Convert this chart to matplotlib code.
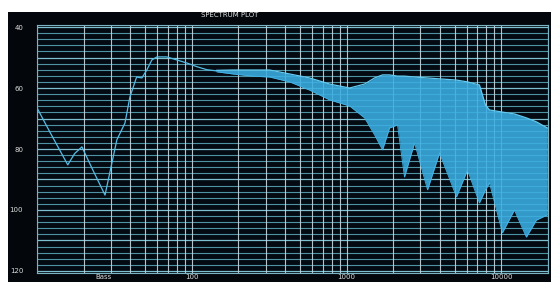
import matplotlib
matplotlib.use("Agg")
import matplotlib.pyplot as plt
from matplotlib.patches import Rectangle

# low frequency part, single trace (Hz, dB)
line_freq = [10, 12.1, 15.8, 17.5, 19.5, 23, 27.5, 32.8, 37, 39.8, 44, 47.6, 51.2,
             55.2, 59.5, 68.9, 80, 92.9, 107.7, 125, 145]
line_db = [-66.5, -74.4, -85.2, -81.5, -79.3, -87, -95.1, -77, -71.5, -63, -56.4, -56.7, -54.1,
           -50.8, -49.8, -49.8, -50.8, -51.8, -53.0, -54.0, -54.4]

# upper part: noisy band, top and bottom of the trace (Hz, dB)
band_freq = [145, 184, 247.5, 318, 429, 577, 777, 1045, 1307, 1517, 1707, 1894, 2133,
             2366, 2748, 3334, 3983, 5129, 6039, 7211, 7889, 8375, 10150, 12130,
             14500, 16830, 19800]
band_top = [-54.2, -54.1, -54.1, -54.1, -55.4, -56.7, -58.7, -60.0, -58.7, -56.7, -55.7,
            -55.7, -56.1, -56.1, -56.4, -56.7, -57.0, -57.4, -58.0, -59.0, -65.6, -67.2,
            -67.9, -68.5, -69.8, -71.1, -73.1]
band_bottom = [-54.7, -55.4, -56.1, -56.4, -58.0, -60.7, -63.9, -65.9, -69.8, -75.4, -80.3,
               -73.1, -72.1, -89.2, -78.0, -93.4, -81.3, -95.7, -86.9, -97.7, -93.4, -91.1,
               -107.5, -100.0, -108.9, -103.3, -101.6]

y_ticks = [-40, -60, -80, -100, -120]
y_labels = ["40", "60", "80", "100", "120"]
x_ticks = [26.7, 100, 1000, 10000]
x_labels = ["Bass", "100", "1000", "10000"]

fig = plt.figure(figsize=(5.51, 2.82), dpi=100)
fig.patch.set_facecolor("white")
fig.patches.append(Rectangle((8 / 551, 0), 1, 270 / 282, transform=fig.transFigure,
                             facecolor="#03060a", edgecolor="none", zorder=-10))

ax = fig.add_axes([37 / 551, 9 / 282, 511 / 551, 248 / 282])
ax.set_zorder(1)
ax.set_facecolor("#040a12")
ax.set_xscale("log")
ax.set_xlim(10, 20000)
ax.set_ylim(-120.66, -39.34)

# grid
for db in range(-120, -38, 2):
    if db % 10 == 0:
        ax.axhline(db, color="#7cc0cf", lw=0.9, zorder=1)
    else:
        ax.axhline(db, color="#4d93a4", lw=0.8, zorder=1)
for dec in [10, 100, 1000]:
    for k in range(1, 10):
        ax.axvline(dec * k, color="#c8d6de", lw=0.8, alpha=0.9, zorder=1)
ax.axvline(10000, color="#c8d6de", lw=0.8, alpha=0.9, zorder=1)
ax.axvline(20000, color="#c8d6de", lw=0.8, alpha=0.9, zorder=1)

# spectrum
ax.plot(line_freq, line_db, color="#55bde6", lw=0.9, zorder=3)
ax.fill_between(band_freq, band_bottom, band_top, color="#3aaee2", alpha=0.88, lw=0, zorder=3)
ax.plot(band_freq, band_top, color="#62caf2", lw=0.9, zorder=3)
ax.plot(band_freq, band_bottom, color="#44b4e6", lw=0.6, zorder=3)

for s in ax.spines.values():
    s.set_color("#7ab4c2")
    s.set_linewidth(0.8)

ax.set_yticks(y_ticks)
ax.set_yticklabels(y_labels)
ax.set_xticks(x_ticks)
ax.set_xticklabels(x_labels)
ax.minorticks_off()
ax.tick_params(axis="both", length=0, colors="#dcdcdc", labelsize=5)
ax.tick_params(axis="y", pad=10)
ax.tick_params(axis="x", pad=1)

fig.text(230 / 551, 1 - 15 / 282, "SPECTRUM PLOT", color="#e0e0e0", fontsize=5,
         ha="center", va="center")

fig.savefig("out.png", dpi=100, facecolor=fig.get_facecolor())
